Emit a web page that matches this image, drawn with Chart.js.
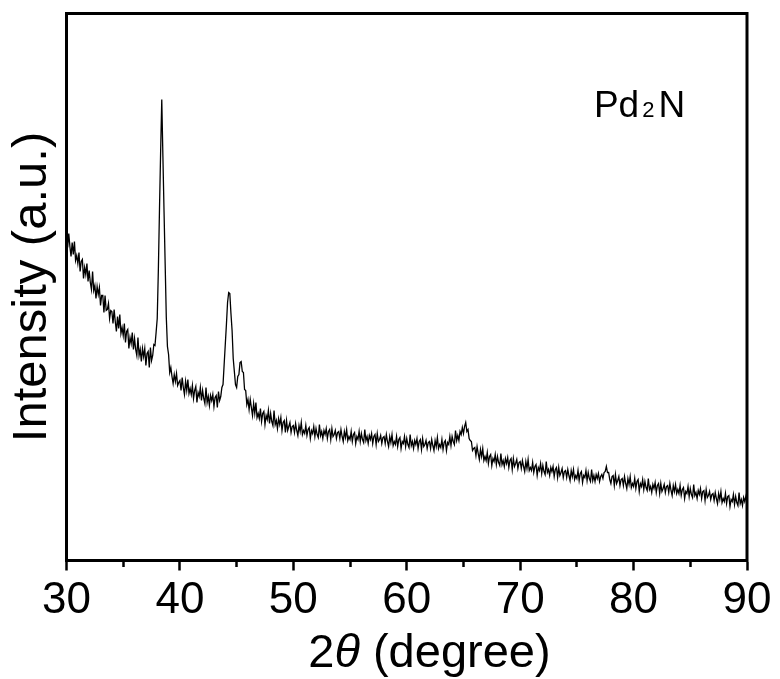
<!DOCTYPE html>
<html><head><meta charset="utf-8">
<script src="https://cdn.jsdelivr.net/npm/chart.js@4.4.1/dist/chart.umd.min.js"></script>
<style>html,body{margin:0;padding:0;background:#fff;}#wrap{width:780px;height:679px;}</style>
</head><body><div id="wrap"><canvas id="c" width="780" height="679"></canvas></div>
<script>
// scan grid (2θ, degrees)
const scanStart = 30;
const scanStep = 0.1;
// intensity, one row per degree (x.0 … x.9)
const intensity = [
 326,313,327,314,304,318,306,319,300,305,
 297,308,289,299,301,282,293,286,297,279,
 290,278,271,289,270,275,262,274,266,273,
 255,265,265,248,265,250,251,257,242,250,
 249,237,251,239,229,244,232,246,227,233,
 225,237,218,229,231,212,223,217,228,211,
 222,211,205,223,205,211,199,212,204,212,
 195,207,209,193,213,200,205,216,215,228,
 242,291,352,409,461,404,349,296,243,214,
 206,188,193,184,177,186,179,187,175,178,
 180,170,183,173,166,179,170,181,167,172,
 166,175,162,170,174,158,168,164,173,160,
 170,162,157,173,158,164,155,165,160,166,
 154,163,165,153,169,160,164,173,176,196,
 216,236,258,268,267,247,230,202,189,176,
 173,184,186,198,199,189,188,171,170,156,
 161,151,161,153,145,157,147,158,143,147,
 142,152,139,147,149,136,145,141,150,137,
 147,139,135,150,136,140,132,142,136,143,
 130,138,140,128,140,130,134,138,128,134,
 135,128,137,130,125,135,129,138,126,130,
 127,135,125,131,133,122,130,127,134,124,
 132,126,123,136,125,129,122,130,126,132,
 122,129,131,121,132,124,126,130,122,128,
 129,122,131,124,119,129,123,131,120,124,
 121,129,119,126,128,117,124,121,129,119,
 127,121,118,131,120,124,117,125,121,127,
 117,124,126,116,127,119,121,125,117,123,
 124,117,126,119,114,124,118,126,115,119,
 116,124,114,121,123,112,119,117,124,114,
 122,116,113,126,115,119,112,120,116,122,
 112,119,121,111,122,114,116,120,112,118,
 119,112,121,115,110,120,114,123,112,116,
 113,121,111,118,120,110,118,116,124,115,
 124,119,116,130,120,125,120,129,126,133,
 127,134,138,129,131,122,120,119,110,112,
 113,105,114,107,101,111,104,112,100,104,
 100,108,97,104,106,95,102,99,106,96,
 104,98,95,107,96,100,94,102,97,103,
 93,100,102,91,102,94,97,101,92,98,
 99,92,100,94,89,99,92,101,90,93,
 90,98,88,94,96,85,93,90,97,87,
 95,89,86,99,88,91,85,93,89,94,
 84,91,93,83,93,85,88,92,83,89,
 90,83,91,85,80,90,84,91,81,85,
 82,90,80,87,89,78,85,83,90,80,
 88,82,79,91,80,85,79,86,82,87,
 79,84,86,82,88,89,94,88,88,81,
 77,84,85,75,86,77,80,84,75,81,
 82,75,84,77,72,82,76,84,73,77,
 74,82,72,79,81,69,77,74,81,71,
 79,73,70,82,71,74,68,76,72,78,
 68,75,77,67,77,69,72,76,68,74,
 75,68,77,70,65,75,69,76,67,71,
 67,75,65,71,73,62,69,67,74,64,
 72,66,63,76,65,68,62,70,66,72,
 62,69,70,60,71,63,65,69,61,66,
 67,60,68,62,57,67,61,69,58,62,
 59,67,57,64,65,54,61,59,66,56,
 64,58,55,68,57,61,55,63,59,64,
 58
];
const xMin = 30, xMax = 90;
const xMajorStep = 10, xMinorStep = 5;
const yMin = 0, yMax = 547;
const xTitleParts = ['2', 'θ', ' (degree)'];
const yTitle = 'Intensity (a.u.)';
const sampleParts = ['Pd', '2', 'N'];

const FAM = '"Liberation Sans", Arial, Helvetica, sans-serif';
const points = intensity.map((v, i) => ({ x: +(scanStart + i * scanStep).toFixed(1), y: v }));

const framePlugin = {
  id: 'frame',
  afterDraw(chart) {
    const { ctx, chartArea: a, scales: { x, y } } = chart;
    ctx.save();
    ctx.strokeStyle = '#000';
    ctx.lineWidth = 3;
    ctx.beginPath();
    ctx.moveTo(a.left - 1.5, a.top);
    ctx.lineTo(a.right, a.top);
    ctx.lineTo(a.right, a.bottom + 1.5);
    ctx.stroke();
    ctx.fillStyle = '#000';
    ctx.textBaseline = 'alphabetic';
    // x axis title with italic theta
    const fonts = [`47px ${FAM}`, `italic 47px ${FAM}`, `47px ${FAM}`];
    let w = 0; const ws = [];
    xTitleParts.forEach((t, i) => { ctx.font = fonts[i]; ws[i] = ctx.measureText(t).width; w += ws[i]; });
    let cx = x.getPixelForValue(62) - w / 2;
    const by = x.bottom - 12;
    xTitleParts.forEach((t, i) => { ctx.font = fonts[i]; ctx.fillText(t, cx, by); cx += ws[i]; });
    // sample label Pd2N
    const sf = [`37px ${FAM}`, `22px ${FAM}`, `37px ${FAM}`];
    const gaps = [3, 4, 0];
    let sx = x.getPixelForValue(76.5);
    const sy = y.getPixelForValue(443.5);
    sampleParts.forEach((t, i) => { ctx.font = sf[i]; ctx.fillText(t, sx, sy); sx += ctx.measureText(t).width + gaps[i]; });
    ctx.restore();
  }
};

new Chart(document.getElementById('c'), {
  type: 'line',
  data: { datasets: [{ data: points, borderColor: '#000', borderWidth: 1.3, pointRadius: 0, tension: 0, fill: false }] },
  options: {
    responsive: false, animation: false,
    layout: { padding: { left: 0, top: 13.5, right: 33, bottom: 0 } },
    plugins: { legend: { display: false }, tooltip: { enabled: false } },
    scales: {
      x: {
        type: 'linear', position: 'bottom', min: xMin, max: xMax,
        afterFit: s => { s.height = 118.5; },
        ticks: {
          stepSize: xMinorStep, autoSkip: false, maxRotation: 0, padding: 4, color: '#000',
          font: { family: FAM, size: 44 },
          callback: v => (v % xMajorStep === 0 ? String(v) : '')
        },
        grid: {
          display: true, drawOnChartArea: false, drawTicks: true, tickLength: 10,
          tickColor: '#000', tickWidth: 2.5,
          tickBorderDash: c => (c.tick && c.tick.value % xMajorStep !== 0 ? [5, 100] : [])
        },
        border: { display: true, color: '#000', width: 3 }
      },
      y: {
        type: 'linear', position: 'left', min: yMin, max: yMax,
        afterFit: s => { s.width = 66.5; },
        ticks: { display: false },
        grid: { display: false },
        border: { display: true, color: '#000', width: 3 },
        title: { display: true, text: yTitle, color: '#000', font: { family: FAM, size: 49 }, padding: { top: 3, bottom: 0 } }
      }
    }
  },
  plugins: [framePlugin]
});
</script></body></html>
